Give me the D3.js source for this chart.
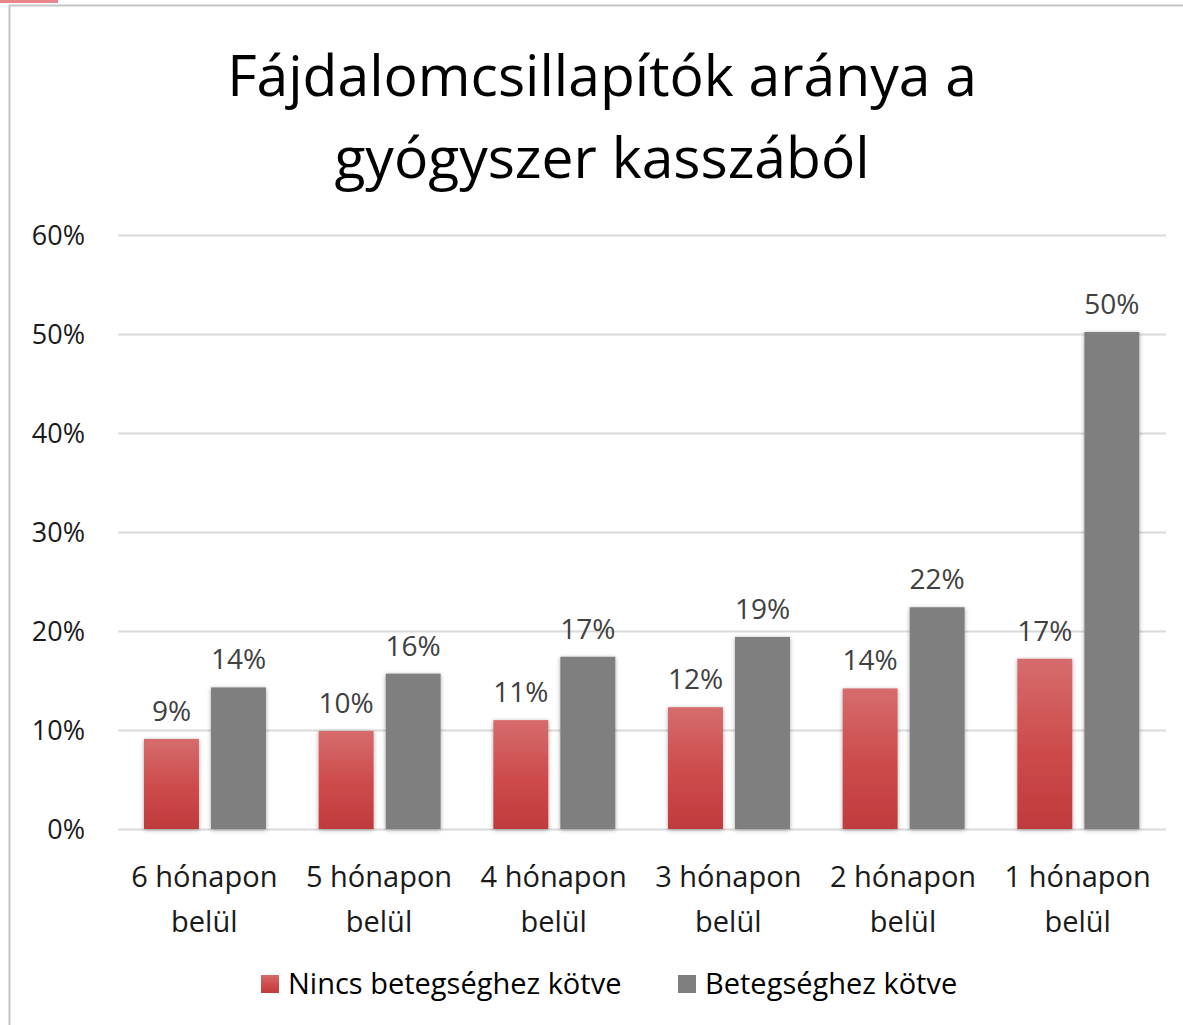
<!DOCTYPE html>
<html>
<head>
<meta charset="utf-8">
<script src="https://cdn.jsdelivr.net/npm/d3@7"></script>
<style>
  body { margin: 0; background: #fff; }
  svg { font-family: "Open Sans", "Noto Sans", sans-serif; }
</style>
</head>
<body>
<svg id="chart" width="1183" height="1025"></svg>
<script>
// data
const categories = ["6 hónapon belül", "5 hónapon belül", "4 hónapon belül", "3 hónapon belül", "2 hónapon belül", "1 hónapon belül"]
const seriesNames = ["Nincs betegséghez kötve", "Betegséghez kötve"]
const nincs = [0.091, 0.099, 0.110, 0.123, 0.142, 0.172]
const betegseg = [0.143, 0.157, 0.174, 0.194, 0.224, 0.502]
const yTicks = [0, 0.1, 0.2, 0.3, 0.4, 0.5, 0.6]
const titleLines = ["Fájdalomcsillapítók aránya a", "gyógyszer kasszából"]

const svg = d3.select("#chart")
const W = 1183, H = 1025
const margin = {left: 118, right: 17, top: 235, bottom: 196}

// frame
svg.append("rect").attr("x", 0).attr("y", 0).attr("width", 58).attr("height", 3).attr("fill", "#e8868c")
svg.append("path").attr("d", "M9.5,1025 V5.5 H1183")
	.attr("fill", "none").attr("stroke", "#c6c6c6").attr("stroke-width", 2)

const defs = svg.append("defs")
const grad = defs.append("linearGradient").attr("id", "redGrad")
	.attr("x1", 0).attr("y1", 0).attr("x2", 0).attr("y2", 1)
grad.append("stop").attr("offset", "0%").attr("stop-color", "#d66c6d")
grad.append("stop").attr("offset", "55%").attr("stop-color", "#cd4a4b")
grad.append("stop").attr("offset", "100%").attr("stop-color", "#c03b3d")
const shadow = defs.append("filter").attr("id", "shadow")
	.attr("x", "-20%").attr("y", "-5%").attr("width", "140%").attr("height", "115%")
shadow.append("feDropShadow").attr("dx", 0).attr("dy", 1).attr("stdDeviation", 2.2)
	.attr("flood-color", "#000").attr("flood-opacity", 0.35)

const y = d3.scaleLinear().domain([0, 0.6]).range([829, 235])
const x0 = d3.scaleBand().domain(categories).range([margin.left, W - margin.right]).paddingInner(0).paddingOuter(0)
const x1 = d3.scaleBand().domain(seriesNames).range([26, x0.bandwidth() - 26.7]).paddingInner(0.18)

// gridlines
svg.append("g").selectAll("line").data(yTicks).join("line")
	.attr("x1", margin.left).attr("x2", W - margin.right)
	.attr("y1", d => Math.round(y(d)) + 0.5).attr("y2", d => Math.round(y(d)) + 0.5)
	.attr("stroke", "#d9d9d9").attr("stroke-width", 2)

// y axis labels
const yAxis = d3.axisLeft(y).tickValues(yTicks).tickFormat(d3.format(".0%")).tickSize(0).tickPadding(0)
const yg = svg.append("g").attr("transform", "translate(85,0)").call(yAxis)
yg.select(".domain").remove()
yg.selectAll("text").attr("font-size", 27).attr("fill", "#1a1a1a").attr("dy", "0.35em")
	.attr("font-family", "'Open Sans', sans-serif")

// bars
const rows = categories.map((c, i) => ({cat: c, vals: [nincs[i], betegseg[i]]}))
const groups = svg.append("g").selectAll("g").data(rows).join("g")
	.attr("transform", d => `translate(${x0(d.cat)},0)`)

groups.selectAll("rect").data(d => d.vals.map((v, j) => ({name: seriesNames[j], v}))).join("rect")
	.attr("x", d => x1(d.name))
	.attr("width", x1.bandwidth())
	.attr("y", d => y(d.v))
	.attr("height", d => y(0) - y(d.v))
	.attr("fill", d => d.name === seriesNames[0] ? "url(#redGrad)" : "#7f7f7f")
	.attr("filter", "url(#shadow)")

groups.selectAll("text.lbl").data(d => d.vals.map((v, j) => ({name: seriesNames[j], v}))).join("text")
	.attr("class", "lbl")
	.attr("x", d => x1(d.name) + x1.bandwidth() / 2)
	.attr("y", d => y(d.v) - 18)
	.attr("text-anchor", "middle")
	.attr("font-size", 28)
	.attr("fill", "#404040")
	.text(d => Math.round(d.v * 100) + "%")

// category labels
const catG = svg.append("g")
categories.forEach(c => {
	const words = c.split(" ")
	const cx = x0(c) + x0.bandwidth() / 2 - 1
	const t = catG.append("text")
		.attr("x", cx)
		.attr("y", 887)
		.attr("text-anchor", "middle")
		.attr("font-size", 29)
		.attr("fill", "#1a1a1a")
	t.append("tspan").attr("x", cx).text(words[0] + " " + words[1])
	t.append("tspan").attr("x", cx).attr("dy", 45).text(words[2])
})

// title
svg.append("g").selectAll("text").data(titleLines).join("text")
	.attr("x", 602)
	.attr("y", (d, i) => 96 + i * 82)
	.attr("text-anchor", "middle")
	.attr("font-size", 57)
	.attr("fill", "#000")
	.text(d => d)

// legend
const legendX = [261, 678]
const leg = svg.append("g").selectAll("g").data(seriesNames).join("g")
	.attr("transform", (d, i) => `translate(${legendX[i]},975)`)
leg.append("rect").attr("width", 18).attr("height", 18)
	.attr("fill", (d, i) => i === 0 ? "url(#redGrad)" : "#7f7f7f")
leg.append("text").attr("x", 27).attr("y", 9).attr("dy", "0.35em")
	.attr("font-size", 29).attr("fill", "#000")
	.text(d => d)
</script>
</body>
</html>
